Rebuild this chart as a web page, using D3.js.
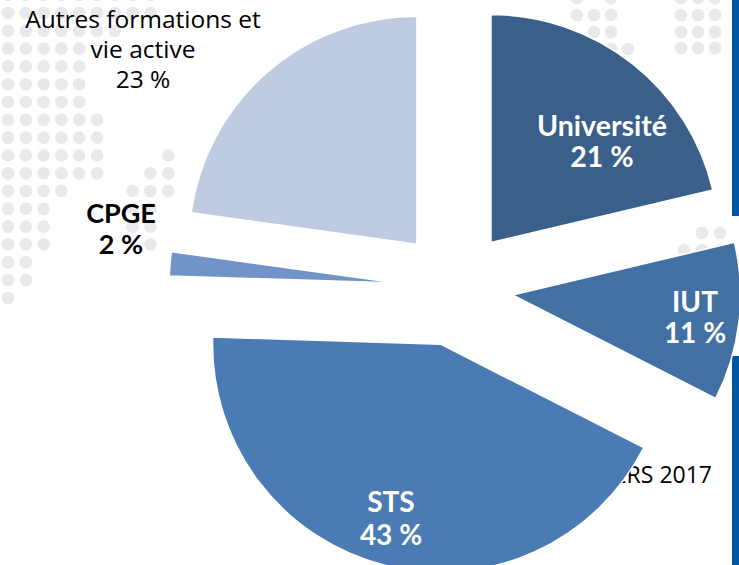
<!DOCTYPE html>
<html><head><meta charset="utf-8">
<script src="https://cdn.jsdelivr.net/npm/d3@7"></script>
<style>html,body{margin:0;padding:0;background:#fff;}svg{display:block;}</style>
</head><body>
<svg id="chart" width="739" height="565"></svg>
<script>
// ---- data ----
const categories = ["Université", "IUT", "STS", "CPGE", "Autres formations et vie active"];
const values = [21.3, 11.2, 43.0, 1.7, 22.8];          // slice shares
const valueLabels = ["21 %", "11 %", "43 %", "2 %", "23 %"];
const sourceText = "RERS 2017";

// ---- style / layout ----
const colors = ["#3A5F8B", "#4370A3", "#4A7BB5", "#7094C7", "#BFCBE1"];
const W = 739, H = 565;
const cx = 455, cy = 288, R = 228, explode = 58;
const labelLayout = [
  {lines: ["Université"], x: 602, y: 136, fill: "#fff", bold: true, size: 28.5, lh: 31, font: "Lato"},
  {lines: ["IUT"], x: 695, y: 312, fill: "#fff", bold: true, size: 28, lh: 31, font: "Lato"},
  {lines: ["STS"], x: 391, y: 512, fill: "#fff", bold: true, size: 28, lh: 33, font: "Lato"},
  {lines: ["CPGE"], x: 121, y: 223, fill: "#000", bold: true, size: 27, lh: 31, font: "Lato"},
  {lines: ["Autres formations et", "vie active"], x: 143, y: 28, fill: "#000", bold: false, size: 24.5, lh: 30, font: "'Open Sans'"}
];

const svg = d3.select("#chart");
svg.append("rect").attr("width", W).attr("height", H).attr("fill", "#fff");

// decorative dot pattern
const dotColor = "#E8E9EC";
const leftRows = [
  [0,8],[0,8],[0,6],[0,4],[0,4],[0,4],[0,4],[0,5],[0,5],[0,5,9,9],[0,5,8,9],[0,3,7,9],[0,2,7,8],[0,2,7,8],[0,2,8,8],[0,1],[0,1],[0,0]
];
const dots = [];
leftRows.forEach((spec, r) => {
  for (let k = 0; k < spec.length; k += 2)
    for (let c = spec[k]; c <= spec[k + 1]; c++) dots.push([8 + 17.8 * c, -4.8 + 17.8 * r]);
});
[[577,-2],[611,-2],[577,15],[594,15],[611,15],[594,32],[611,32],[611,49],[628,49],
 [681,-2],[698,-2],[715,-2],[681,15],[698,15],[715,15],[681,32],[698,32],[715,32],[681,48],[698,48],[715,48],
 [702,233],[720,233],[684,250],[702,250],[720,250]].forEach(d => dots.push(d));
svg.append("g").selectAll("circle").data(dots).join("circle")
  .attr("cx", d => d[0]).attr("cy", d => d[1]).attr("r", 6.3).attr("fill", dotColor);

// right blue bar
svg.append("rect").attr("x", 732).attr("y", 0).attr("width", 7).attr("height", 216).attr("fill", "#0055A5");
svg.append("rect").attr("x", 732).attr("y", 356).attr("width", 7).attr("height", H - 356).attr("fill", "#0055A5");

// source text (partly hidden by STS slice)
svg.append("text").attr("x", 712).attr("y", 483).attr("text-anchor", "end")
  .attr("font-family", "'Open Sans', Lato, sans-serif").attr("font-size", 23).attr("fill", "#000")
  .text(sourceText);

// pie
const pie = d3.pie().sort(null).startAngle(0).endAngle(2 * Math.PI).value(d => d);
const arcs = pie(values);
const arc = d3.arc().innerRadius(0).outerRadius(R);
const g = svg.append("g").attr("transform", `translate(${cx},${cy})`);
g.selectAll("path").data(arcs).join("path")
  .attr("transform", d => {
    const a = (d.startAngle + d.endAngle) / 2;
    return `translate(${explode * Math.sin(a)},${-explode * Math.cos(a)})`;
  })
  .attr("d", arc)
  .attr("fill", (d, i) => colors[i])
  .attr("stroke", "#fff").attr("stroke-width", 1.5).attr("stroke-linejoin", "miter");

// labels
labelLayout.forEach((L, i) => {
  const t = svg.append("text").attr("text-anchor", "middle")
    .attr("font-family", L.font + ", sans-serif")
    .attr("font-weight", L.bold ? 700 : 400).attr("font-size", L.size).attr("fill", L.fill);
  const lines = L.lines.concat([valueLabels[i]]);
  lines.forEach((s, j) => t.append("tspan").attr("x", L.x).attr("y", L.y + j * L.lh).text(s));
});
</script>
</body></html>
